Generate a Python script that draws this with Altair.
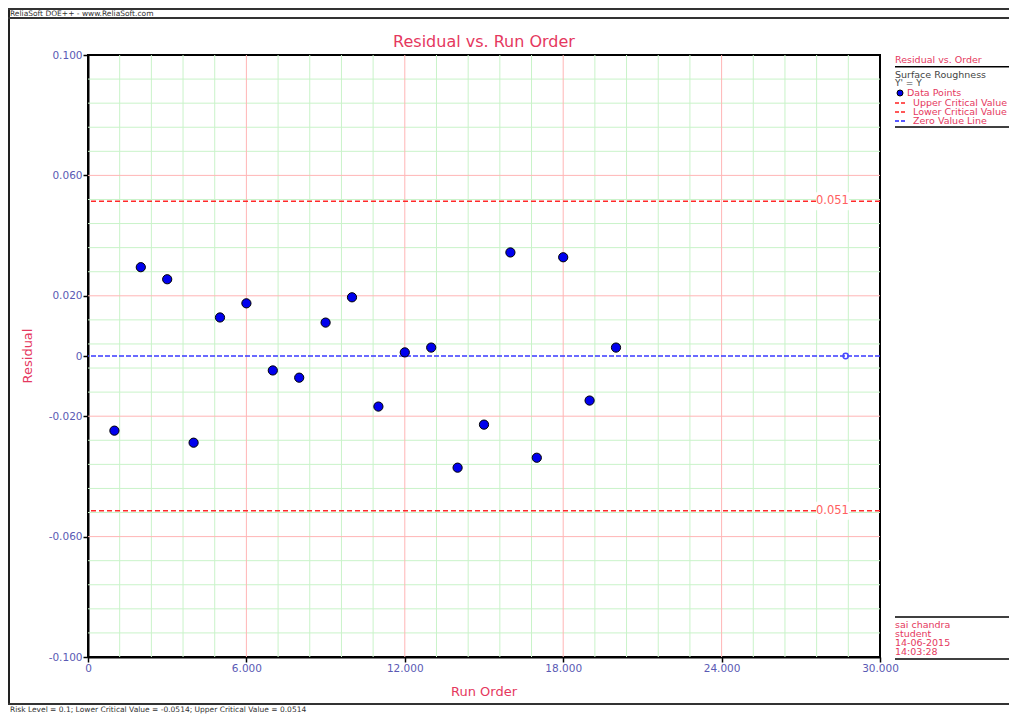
import altair as alt
import pandas as pd

# ---------------- data ----------------
run_order = list(range(1, 21))
residuals = [-0.0248, 0.0295, 0.0255, -0.0288, 0.0128, 0.0175, -0.0048, -0.0072,
             0.0111, 0.0195, -0.0168, 0.0012, 0.0028, -0.0371, -0.0228, 0.0344,
             -0.0338, 0.0328, -0.0148, 0.0028]
critical_values = [0.0514, -0.0514]
zero_marker_x = [28.7]
zero_marker_y = [0.0]
x_ticks = [0, 6, 12, 18, 24, 30]
y_ticks = [-0.1, -0.06, -0.02, 0, 0.02, 0.06, 0.1]
x_major_grid = [6, 12, 18, 24]
y_major_grid = [-0.06, -0.02, 0.02, 0.06]
x_minor_grid = [1.2, 2.4, 3.6, 4.8, 7.2, 8.4, 9.6, 10.8, 13.2, 14.4, 15.6, 16.8,
                19.2, 20.4, 21.6, 22.8, 25.2, 26.4, 27.6, 28.8]
y_minor_grid = [-0.092, -0.084, -0.076, -0.068, -0.052, -0.044, -0.036, -0.028,
                -0.012, -0.004, 0.004, 0.012, 0.028, 0.036, 0.044, 0.052,
                0.068, 0.076, 0.084, 0.092]
legend_title = "Residual vs. Order"
legend_lines = ["Surface Roughness", "Y' = Y"]
legend_items = ["Data Points", "Upper Critical Value", "Lower Critical Value", "Zero Value Line"]
footer_right = ["sai chandra", "student", "14-06-2015", "14:03:28"]
header_text = "ReliaSoft DOE++ - www.ReliaSoft.com"
footer_text = "Risk Level = 0.1; Lower Critical Value = -0.0514; Upper Critical Value = 0.0514"
cv_label_x = 28.2

# ---------------- styles ----------------
FONT = "DejaVu Sans"
RED_TXT = "#e5385e"
LBL = "#5a5ab4"
W, H = 792, 602

xs = alt.Scale(domain=[0, 30], nice=False, zero=False)
ys = alt.Scale(domain=[-0.1, 0.1], nice=False, zero=False)

x_axis = alt.Axis(values=x_ticks, labelExpr="datum.value == 0 ? '0' : format(datum.value, '.3f')",
                  grid=False, tickSize=5, tickColor="black", tickWidth=1.5, domainColor="black",
                  domainWidth=2, labelColor=LBL, labelFont=FONT, labelFontSize=10.5,
                  labelPadding=1, labelFlush=False, title=None)
y_axis = alt.Axis(values=y_ticks,
                  labelExpr="datum.value == 0 ? '0' : (datum.value < 0 ? '-' : '') + format(abs(datum.value), '.3f')",
                  grid=False, tickSize=5, tickColor="black", tickWidth=1.5, domainColor="black",
                  domainWidth=2, labelColor=LBL, labelFont=FONT, labelFontSize=10.5,
                  labelPadding=1, labelFlush=False, title=None)


def X(field):
    return alt.X(field, scale=xs, axis=x_axis)


def Y(field):
    return alt.Y(field, scale=ys, axis=y_axis)


pts = pd.DataFrame({"x": run_order, "y": residuals})


def one():
    return alt.Data(values=[{}])


def txt(text, x, y, color, size, align="left", baseline="middle", angle=0):
    return alt.Chart(one()).mark_text(
        text=text, align=align, baseline=baseline, color=color, fontSize=size,
        font=FONT, angle=angle
    ).encode(x=alt.value(x), y=alt.value(y))


def hline(x1, x2, y, color, width, dash=None):
    kw = dict(color=color, strokeWidth=width)
    if dash:
        kw["strokeDash"] = dash
    return alt.Chart(one()).mark_rule(**kw).encode(
        x=alt.value(x1), x2=alt.value(x2), y=alt.value(y))


def vline(x, y1, y2, color, width):
    return alt.Chart(one()).mark_rule(color=color, strokeWidth=width).encode(
        x=alt.value(x), y=alt.value(y1), y2=alt.value(y2))


# grids
gx_minor = alt.Chart(pd.DataFrame({"x": x_minor_grid})).mark_rule(
    color="#c9f3c9", strokeWidth=1).encode(x=X("x:Q"))
gy_minor = alt.Chart(pd.DataFrame({"y": y_minor_grid})).mark_rule(
    color="#c9f3c9", strokeWidth=1).encode(y=Y("y:Q"))
gx_major = alt.Chart(pd.DataFrame({"x": x_major_grid})).mark_rule(
    color="#ffb6b6", strokeWidth=1).encode(x=X("x:Q"))
gy_major = alt.Chart(pd.DataFrame({"y": y_major_grid})).mark_rule(
    color="#ffb6b6", strokeWidth=1).encode(y=Y("y:Q"))

# critical value lines
cv_df = pd.DataFrame({"y": critical_values})
cv_df["lab"] = [f"{abs(v):.3f}" for v in critical_values]
cv_df["lx"] = cv_label_x
cv_lines = alt.Chart(cv_df).mark_rule(color="#ff2a2a", strokeWidth=1.5, strokeDash=[5, 3]).encode(
    y=Y("y:Q"))
cv_bg = alt.Chart(cv_df).transform_calculate(
    x1="datum.lx - 0.62", x2="datum.lx + 0.62", y1="datum.y - 0.003", y2="datum.y + 0.003"
).mark_rect(fill="white").encode(x=X("x1:Q"), x2="x2:Q", y=Y("y1:Q"), y2="y2:Q")
cv_text = alt.Chart(cv_df).mark_text(color="#ff6060", fontSize=11.5, font=FONT,
                                     align="center", baseline="middle").encode(
    x=X("lx:Q"), y=Y("y:Q"), text="lab:N")

# zero line and marker
zero_line = alt.Chart(pd.DataFrame({"y": [0.0]})).mark_rule(
    color="#3a3aff", strokeWidth=1.5, strokeDash=[5, 2]).encode(y=Y("y:Q"))
zero_pt = alt.Chart(pd.DataFrame({"x": zero_marker_x, "y": zero_marker_y})).mark_point(
    shape="circle", filled=False, color="#4a4aff", size=28, strokeWidth=1.5, opacity=1).encode(
    x=X("x:Q"), y=Y("y:Q"))

points = alt.Chart(pts).mark_circle(size=85, fill="#0000ee", stroke="black", strokeWidth=1,
                                    opacity=1, fillOpacity=1).encode(x=X("x:Q"), y=Y("y:Q"))

# titles and annotations
annots = [
    txt("Residual vs. Run Order", W / 2, -13, RED_TXT, 16, align="center"),
    txt("Run Order", W / 2, 637, RED_TXT, 13, align="center"),
    txt("Residual", -60, H / 2, RED_TXT, 13, align="center", angle=270),
    # outer frame + header
    vline(-79, -47, 650, "#222222", 2),
    hline(-80, 921, -46, "#333333", 2),
    hline(-80, 921, -37, "#333333", 2),
    txt(header_text, -78, -41.5, "#333333", 7.5),
    hline(-80, 921, 649, "#333333", 2),
    txt(footer_text, -78, 650.5, "#333333", 7.5, baseline="top"),
    # legend block
    txt(legend_title, 807, 5, RED_TXT, 9.5),
    hline(807, 925, 11.7, "black", 1.5),
    txt(legend_lines[0], 807, 19.5, "#444444", 9.5),
    txt(legend_lines[1], 807, 28, "#444444", 9),
    alt.Chart(one()).mark_circle(size=36, fill="#0000ee", stroke="black", strokeWidth=1,
                                 opacity=1).encode(x=alt.value(812), y=alt.value(38)),
    txt(legend_items[0], 819, 38, RED_TXT, 9.5),
    hline(807, 819, 48, "#ff2020", 1.5, dash=[4, 2]),
    txt(legend_items[1], 825, 48, RED_TXT, 9.5),
    hline(807, 819, 57, "#ff2020", 1.5, dash=[4, 2]),
    txt(legend_items[2], 825, 57, RED_TXT, 9.5),
    hline(807, 819, 66, "#2020ff", 1.5, dash=[4, 2]),
    txt(legend_items[3], 825, 66, RED_TXT, 9.5),
    hline(807, 925, 72, "black", 1.5),
    # bottom-right block
    hline(807, 925, 562, "black", 1.5),
    txt(footer_right[0], 807, 570, RED_TXT, 9.5),
    txt(footer_right[1], 807, 579, RED_TXT, 9.5),
    txt(footer_right[2], 807, 588, RED_TXT, 9.5),
    txt(footer_right[3], 807, 597, RED_TXT, 9.5),
    hline(807, 925, 604, "black", 1.5),
]

chart = alt.layer(
    gx_minor, gy_minor, gx_major, gy_major, cv_lines, cv_bg, cv_text,
    zero_line, zero_pt, points, *annots
).properties(
    width=W, height=H,
    autosize=alt.AutoSizeParams(type="none"),
    padding={"left": 80, "top": 47, "right": 129, "bottom": 58},
    background="white",
).configure_view(stroke="black", strokeWidth=2)

chart.save("out.html", embed_options={"renderer": "svg", "actions": False})
